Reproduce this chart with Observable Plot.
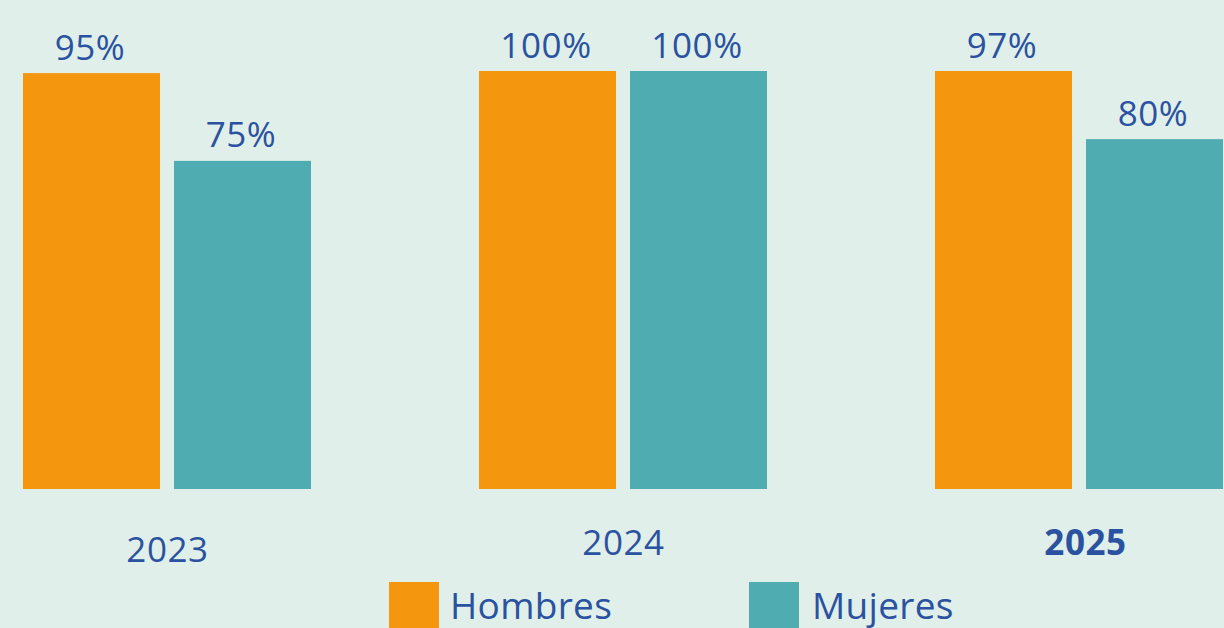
<!DOCTYPE html>
<html>
<head>
<meta charset="utf-8">
<script src="https://cdn.jsdelivr.net/npm/d3@7"></script>
<script src="https://cdn.jsdelivr.net/npm/@observablehq/plot@0.6"></script>
<style>
  html, body { margin: 0; padding: 0; background: #e0efea; overflow: hidden; }
  body { width: 1224px; height: 628px; font-family: "Open Sans", sans-serif; }
  #legend { display: flex; align-items: flex-start; padding-left: 389px; margin-top: 12px; }
  .item { display: flex; align-items: center; }
  .sw { width: 50px; height: 50px; }
  .lab { font-size: 37px; color: #2a52a0; line-height: 50px; margin-top: -4px; letter-spacing: 0.3px; }
  svg text { letter-spacing: 0.6px; }
</style>
</head>
<body>
<div id="chart"></div>
<div id="legend"></div>
<script>
// Data
const years = ["2023", "2024", "2025"];
const sexes = ["Hombres", "Mujeres"];
const colors = ["#f5970e", "#4fadb2"];
// Printed labels (%)
const hombresLabel = [95, 100, 97];
const mujeresLabel = [75, 100, 80];
// Bar lengths as drawn in the picture (relative to the tallest bar = 100)
const hombresBar = [99.5, 100, 100];
const mujeresBar = [78.5, 100, 83.7];

const rows = [];
years.forEach((yr, i) => {
  rows.push({year: yr, sex: sexes[0], bar: hombresBar[i], label: hombresLabel[i]});
  rows.push({year: yr, sex: sexes[1], bar: mujeresBar[i], label: mujeresLabel[i]});
});

const textColor = "#2a52a0";

const chart = Plot.plot({
  width: 1224,
  height: 570,
  marginLeft: 22,
  marginRight: 0,
  marginTop: 71,
  marginBottom: 81,
  style: {background: "transparent", fontFamily: "Open Sans, sans-serif"},
  fx: {domain: years, paddingInner: 0.365, paddingOuter: 0, axis: null},
  x: {domain: sexes, paddingInner: 0.092, paddingOuter: 0, axis: null},
  y: {domain: [0, 100], axis: null},
  color: {domain: sexes, range: colors},
  marks: [
    Plot.barY(rows, {fx: "year", x: "sex", y: "bar", fill: "sex"}),
    Plot.text(rows, {fx: "year", x: "sex", y: "bar", text: d => d.label + "%",
      lineAnchor: "bottom", dy: -14, dx: -2, fontSize: 35, fill: textColor}),
    Plot.text(years.filter(y => y === "2023"), {fx: d => d, text: d => d, frameAnchor: "bottom",
      lineAnchor: "bottom", dy: 72, fontSize: 35, fill: textColor}),
    Plot.text(years.filter(y => y === "2024"), {fx: d => d, text: d => d, frameAnchor: "bottom",
      lineAnchor: "bottom", dy: 65, fontSize: 35, fill: textColor}),
    Plot.text(years.filter(y => y === "2025"), {fx: d => d, text: d => d, frameAnchor: "bottom",
      lineAnchor: "bottom", dy: 65, dx: 6, fontSize: 35, fontWeight: "bold", fill: textColor})
  ]
});
document.getElementById("chart").appendChild(chart);

const legend = document.getElementById("legend");
sexes.forEach((s, i) => {
  const item = document.createElement("div");
  item.className = "item";
  if (i === 0) item.style.width = "360px";
  const sw = document.createElement("div");
  sw.className = "sw";
  sw.style.background = colors[i];
  const lab = document.createElement("span");
  lab.className = "lab";
  lab.textContent = s;
  lab.style.marginLeft = i === 0 ? "11px" : "13px";
  item.appendChild(sw);
  item.appendChild(lab);
  legend.appendChild(item);
});
</script>
</body>
</html>
